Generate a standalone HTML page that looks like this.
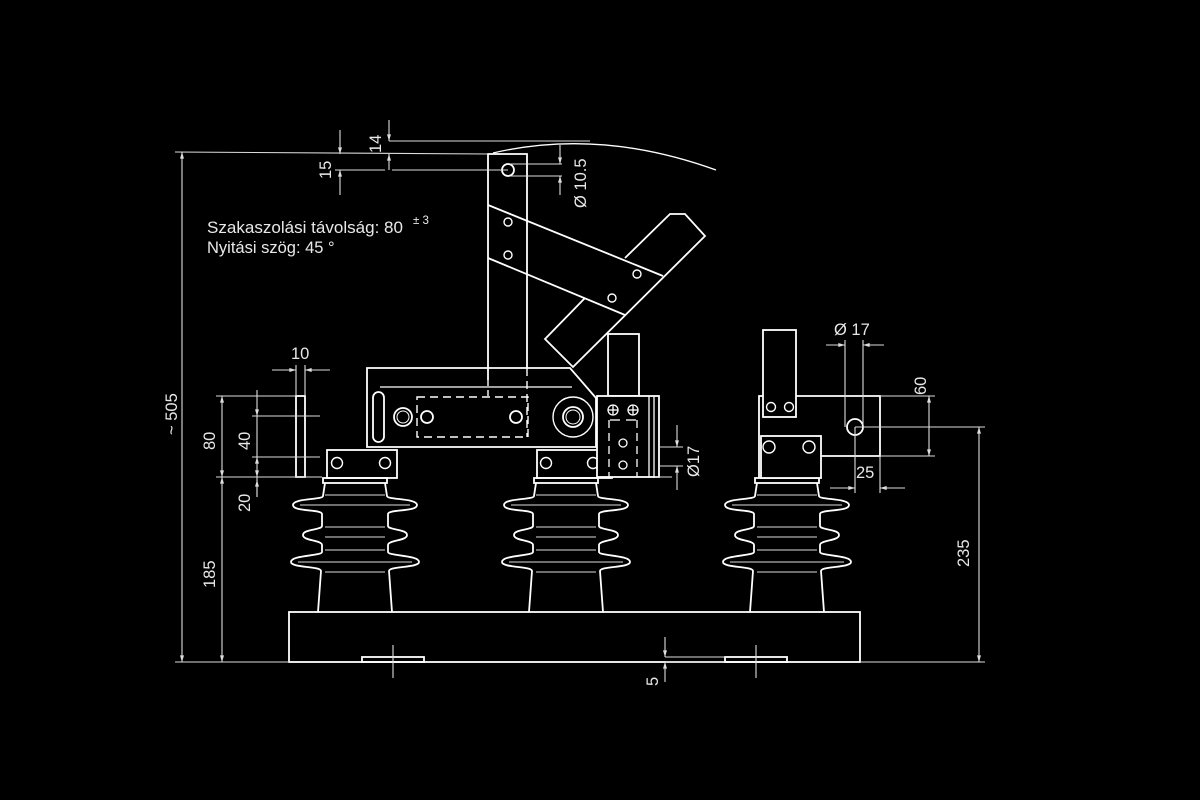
<!DOCTYPE html>
<html><head><meta charset="utf-8"><style>
html,body{margin:0;padding:0;background:#000;}
svg{display:block;}
text{font-family:"Liberation Sans",sans-serif;fill:#e8e8e8;}
</style></head><body>
<svg width="1200" height="800" viewBox="0 0 1200 800" xmlns="http://www.w3.org/2000/svg">
<defs>
<marker id="a" viewBox="0 0 10 6" refX="10" refY="3" markerWidth="8" markerHeight="4" orient="auto-start-reverse" markerUnits="userSpaceOnUse"><path d="M0,0 L10,3 L0,6 Z" fill="#ddd"/></marker>
<g id="ins" fill="none" stroke="#fff" stroke-width="1.8">
<path d="M-30 483 L-32 496 C-32 500 -62 498 -62 505 C-62 512 -33 509 -33 514 L-33 526 C-33 530 -52 529 -52 535 C-52 541 -33 540 -33 545 L-33 552 C-33 556 -64 555 -64 562 C-64 568 -34 566 -34 571 L-37 612"/>
<path d="M30 483 L32 496 C32 500 62 498 62 505 C62 512 33 509 33 514 L33 526 C33 530 52 529 52 535 C52 541 33 540 33 545 L33 552 C33 556 64 555 64 562 C64 568 34 566 34 571 L37 612"/>
<g stroke-width="1.1" stroke="#ddd"><line x1="-30" y1="495" x2="30" y2="495"/><line x1="-55" y1="505" x2="55" y2="505"/><line x1="-30" y1="527" x2="30" y2="527"/><line x1="-30" y1="537" x2="30" y2="537"/><line x1="-30" y1="550" x2="30" y2="550"/><line x1="-57" y1="562" x2="57" y2="562"/><line x1="-30" y1="572" x2="30" y2="572"/></g>
<rect x="-32" y="478" width="64" height="5"/>
</g>
</defs>

<g fill="none" stroke="#fff" stroke-width="1.8">
<rect x="289" y="612" width="571" height="50"/>
<rect x="362" y="657" width="62" height="5"/>
<rect x="725" y="657" width="62" height="5"/>
<use href="#ins" x="355"/>
<use href="#ins" x="566"/>
<use href="#ins" x="787"/>

<rect x="296" y="396" width="9" height="81"/>
<rect x="327" y="450" width="70" height="28"/>
<rect x="537" y="450" width="75" height="28"/>
<g stroke-width="1.4">
<circle cx="337" cy="463" r="5.5"/><circle cx="385" cy="463" r="5.5"/>
<circle cx="546" cy="463" r="5.5"/><circle cx="593" cy="463" r="5.5"/>
</g>

<path d="M367 368 L570 368 L596 398 L596 447 L367 447 Z" fill="#000"/>
<line x1="380" y1="387" x2="572" y2="387" stroke-width="1.3"/>
<rect x="373" y="392" width="11" height="50" rx="5.5"/>
<rect x="417" y="397" width="111" height="40" stroke-dasharray="8,5" stroke-width="1.4"/>
<circle cx="403" cy="417" r="9"/><circle cx="403" cy="417" r="6" stroke-width="1"/>
<circle cx="427" cy="417" r="6"/>
<circle cx="516" cy="417" r="6"/>
<circle cx="573" cy="417" r="20" stroke-width="1.4"/><circle cx="573" cy="417" r="10"/><circle cx="573" cy="417" r="7" stroke-width="1"/>

<path d="M488 380 L488 154 L527 154 L527 368"/>
<line x1="527" y1="368" x2="527" y2="437" stroke-dasharray="8,5" stroke-width="1.4"/>
<line x1="488" y1="380" x2="488" y2="397" stroke-dasharray="6,4" stroke-width="1.4"/>
<circle cx="508" cy="170" r="6"/>
<circle cx="508" cy="222" r="4" stroke-width="1.4"/><circle cx="508" cy="255" r="4" stroke-width="1.4"/>
<line x1="488" y1="205" x2="663" y2="276"/>
<line x1="488" y1="258" x2="625" y2="315"/>
<path d="M625 258 L670 214 L685 214 L705 236 L573 367 L545 339 L585 298"/>
<circle cx="637" cy="274" r="4" stroke-width="1.4"/><circle cx="612" cy="298" r="4" stroke-width="1.4"/>
<path d="M493 153 Q600 128 716 170" stroke-width="1.3"/>

<rect x="608" y="334" width="31" height="62"/>
<rect x="597" y="396" width="62" height="81" fill="#000"/>
<line x1="649" y1="396" x2="649" y2="477" stroke-width="1.3"/>
<line x1="654" y1="396" x2="654" y2="477" stroke-width="1.3"/>
<line x1="609" y1="420" x2="609" y2="477" stroke-dasharray="8,5" stroke-width="1.3"/>
<line x1="637" y1="420" x2="637" y2="477" stroke-dasharray="8,5" stroke-width="1.3"/>
<g stroke-width="1.3"><circle cx="613" cy="410" r="5"/><circle cx="633" cy="410" r="5"/>
<line x1="608" y1="410" x2="618" y2="410"/><line x1="613" y1="405" x2="613" y2="415"/>
<line x1="628" y1="410" x2="638" y2="410"/><line x1="633" y1="405" x2="633" y2="415"/>
<circle cx="623" cy="443" r="4"/><circle cx="623" cy="465" r="4"/>
<line x1="610" y1="420" x2="620" y2="420"/><line x1="626" y1="420" x2="636" y2="420"/></g>

<path d="M759 478 L759 396 L880 396 L880 456 L821 456"/>
<rect x="763" y="330" width="33" height="87" fill="#000"/>
<rect x="761" y="436" width="60" height="42" fill="#000"/>
<g stroke-width="1.4"><circle cx="771" cy="407" r="4.5"/><circle cx="789" cy="407" r="4.5"/>
<circle cx="769" cy="447" r="6"/><circle cx="809" cy="447" r="6"/></g>
<circle cx="855" cy="427" r="8"/>
</g>

<g fill="none" stroke="#ddd" stroke-width="1.1">
<line x1="175" y1="152" x2="488" y2="154"/>
<line x1="175" y1="662" x2="289" y2="662"/>
<line x1="182" y1="152" x2="182" y2="662" marker-start="url(#a)" marker-end="url(#a)"/>
<line x1="216" y1="396" x2="296" y2="396"/>
<line x1="216" y1="477" x2="322" y2="477"/>
<line x1="222" y1="396" x2="222" y2="477" marker-start="url(#a)" marker-end="url(#a)"/>
<line x1="222" y1="477" x2="222" y2="662" marker-start="url(#a)" marker-end="url(#a)"/>
<line x1="252" y1="416" x2="320" y2="416"/>
<line x1="252" y1="457" x2="320" y2="457"/>
<line x1="257" y1="390" x2="257" y2="416" marker-end="url(#a)"/>
<line x1="257" y1="416" x2="257" y2="457"/>
<line x1="257" y1="457" x2="257" y2="477" marker-start="url(#a)" marker-end="url(#a)"/>
<line x1="257" y1="477" x2="257" y2="497"/>
<line x1="257" y1="497" x2="257" y2="480" marker-end="url(#a)"/>
<line x1="296" y1="365" x2="296" y2="396"/><line x1="305" y1="365" x2="305" y2="396"/>
<line x1="272" y1="370" x2="296" y2="370" marker-end="url(#a)"/>
<line x1="330" y1="370" x2="305" y2="370" marker-end="url(#a)"/>
<line x1="389" y1="141" x2="590" y2="141"/>
<line x1="392" y1="170" x2="508" y2="170"/>
<line x1="335" y1="170" x2="385" y2="170"/>
<line x1="389" y1="120" x2="389" y2="141" marker-end="url(#a)"/>
<line x1="389" y1="170" x2="389" y2="154" marker-end="url(#a)"/>
<line x1="340" y1="130" x2="340" y2="154" marker-end="url(#a)"/>
<line x1="340" y1="195" x2="340" y2="170" marker-end="url(#a)"/>
<line x1="510" y1="164" x2="562" y2="164"/><line x1="510" y1="176" x2="562" y2="176"/>
<line x1="560" y1="145" x2="560" y2="164" marker-end="url(#a)"/>
<line x1="560" y1="195" x2="560" y2="176" marker-end="url(#a)"/>
<line x1="660" y1="447" x2="683" y2="447"/><line x1="660" y1="466" x2="683" y2="466"/>
<line x1="677" y1="425" x2="677" y2="447" marker-end="url(#a)"/>
<line x1="677" y1="490" x2="677" y2="466" marker-end="url(#a)"/>
<line x1="655" y1="477" x2="672" y2="477"/>
<line x1="845" y1="340" x2="845" y2="427"/><line x1="863" y1="340" x2="863" y2="427"/>
<line x1="826" y1="345" x2="845" y2="345" marker-end="url(#a)"/>
<line x1="884" y1="345" x2="863" y2="345" marker-end="url(#a)"/>
<line x1="880" y1="396" x2="935" y2="396"/><line x1="880" y1="456" x2="935" y2="456"/>
<line x1="929" y1="396" x2="929" y2="456" marker-start="url(#a)" marker-end="url(#a)"/>
<line x1="855" y1="427" x2="985" y2="427"/>
<line x1="860" y1="662" x2="985" y2="662"/>
<line x1="979" y1="427" x2="979" y2="662" marker-start="url(#a)" marker-end="url(#a)"/>
<line x1="855" y1="427" x2="855" y2="493"/><line x1="880" y1="456" x2="880" y2="493"/>
<line x1="830" y1="488" x2="855" y2="488" marker-end="url(#a)"/>
<line x1="905" y1="488" x2="880" y2="488" marker-end="url(#a)"/>
<line x1="665" y1="657" x2="725" y2="657"/>
<line x1="665" y1="637" x2="665" y2="657" marker-end="url(#a)"/>
<line x1="665" y1="682" x2="665" y2="662" marker-end="url(#a)"/>
<line x1="665" y1="662" x2="725" y2="662"/>
<line x1="393" y1="645" x2="393" y2="678"/><line x1="756" y1="645" x2="756" y2="678"/>
</g>

<g font-size="16.5">
<text x="207" y="233" font-size="16.5" textLength="196" lengthAdjust="spacingAndGlyphs">Szakaszolási távolság: 80</text>
<text x="413" y="224" font-size="11.5">± 3</text>
<text x="207" y="253" font-size="16.5">Nyitási szög: 45 °</text>
<text x="291" y="359">10</text>
<text x="834" y="335">Ø 17</text>
<text x="856" y="478">25</text>
<text transform="translate(177,435) rotate(-90)">~ 505</text>
<text transform="translate(215,450) rotate(-90)">80</text>
<text transform="translate(215,588) rotate(-90)">185</text>
<text transform="translate(250,450) rotate(-90)">40</text>
<text transform="translate(250,512) rotate(-90)">20</text>
<text transform="translate(331,179) rotate(-90)">15</text>
<text transform="translate(381,153) rotate(-90)">14</text>
<text transform="translate(586,208) rotate(-90)">Ø 10.5</text>
<text transform="translate(699,477) rotate(-90)">Ø17</text>
<text transform="translate(926,395) rotate(-90)">60</text>
<text transform="translate(969,567) rotate(-90)">235</text>
<text transform="translate(658,686) rotate(-90)">5</text>
</g>
</svg>
</body></html>
